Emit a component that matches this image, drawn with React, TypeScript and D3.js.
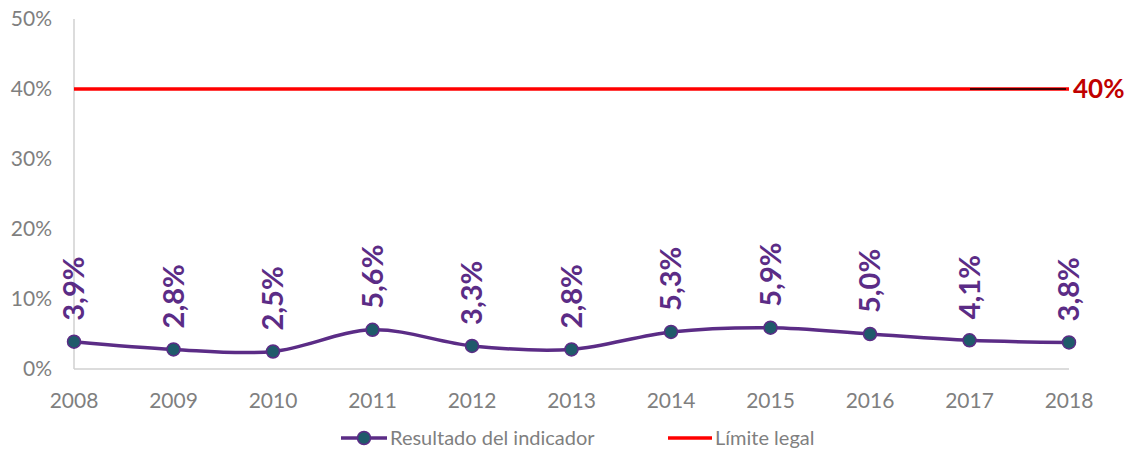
import React from "react";
import * as d3 from "d3";

const years = ["2008","2009","2010","2011","2012","2013","2014","2015","2016","2017","2018"];
const values = [3.9, 2.8, 2.5, 5.6, 3.3, 2.8, 5.3, 5.9, 5.0, 4.1, 3.8];
const limitValue = 40;
const yTicks = [0, 10, 20, 30, 40, 50];
const seriesName = "Resultado del indicador";
const limitName = "Límite legal";

const W = 1128, H = 451;
const FONT = "Lato, 'Open Sans', sans-serif";

export default function App() {
  const x = d3.scalePoint<string>().domain(years).range([74, 1069]);
  const y = d3.scaleLinear().domain([0, 50]).range([369, 19]);
  const line = d3
    .line<number>()
    .x((_, i) => x(years[i])!)
    .y((d) => y(d))
    .curve(d3.curveCatmullRom.alpha(0.5));
  const fmt = (v: number) => v.toFixed(1).replace(".", ",") + "%";
  const purple = "#5B2C86";
  const markerFill = "#1F5A6A";
  const gray = "#7F7F7F";
  return (
    <svg width={W} height={H} style={{ position: "absolute", left: 0, top: 0, background: "#fff" }} fontFamily={FONT}>
      {/* axes */}
      <line x1={x(years[0])} x2={x(years[0])} y1={y(50)} y2={y(0)} stroke="#D0D0D0" strokeWidth={1.5} />
      <line x1={x(years[0])} x2={x(years[years.length - 1])} y1={y(0)} y2={y(0)} stroke="#D0D0D0" strokeWidth={1.5} />
      {yTicks.map((t) => (
        <text key={t} x={52} y={y(t)} dy="0.35em" textAnchor="end" fontSize={21} fill={gray}>
          {t + "%"}
        </text>
      ))}
      {years.map((yr) => (
        <text key={yr} x={x(yr)} y={401} dy="0.35em" textAnchor="middle" fontSize={21} fill={gray}>
          {yr}
        </text>
      ))}
      {/* limit line */}
      <line x1={x(years[0])} x2={x(years[years.length - 1])} y1={y(limitValue)} y2={y(limitValue)} stroke="#FF0000" strokeWidth={3.5} />
      <line x1={970} x2={1066} y1={y(limitValue)} y2={y(limitValue)} stroke="#000" strokeWidth={1.5} />
      <text x={1073} y={y(limitValue)} dy="0.36em" fontSize={26} fontWeight="bold" fill="#C00000">
        {limitValue + "%"}
      </text>
      {/* series */}
      <path d={line(values) || ""} fill="none" stroke={purple} strokeWidth={3.5} />
      {values.map((v, i) => (
        <circle key={i} cx={x(years[i])} cy={y(v)} r={6.5} fill={markerFill} stroke={purple} strokeWidth={1.5} />
      ))}
      {values.map((v, i) => {
        const cx = x(years[i])!;
        const cy = y(v) - 21;
        return (
          <text key={"l" + i} transform={`translate(${cx + 10},${cy}) rotate(-90)`} fontSize={29} fontWeight="bold" fill={purple}>
            {fmt(v)}
          </text>
        );
      })}
      {/* legend */}
      <line x1={341} x2={387} y1={438} y2={438} stroke={purple} strokeWidth={3.5} />
      <circle cx={364} cy={438} r={6.5} fill={markerFill} stroke={purple} strokeWidth={1.5} />
      <text x={390} y={438} dy="0.35em" fontSize={20} fill={gray}>{seriesName}</text>
      <line x1={668} x2={712} y1={438} y2={438} stroke="#FF0000" strokeWidth={3.5} />
      <text x={715} y={438} dy="0.35em" fontSize={20} fill={gray}>{limitName}</text>
    </svg>
  );
}
